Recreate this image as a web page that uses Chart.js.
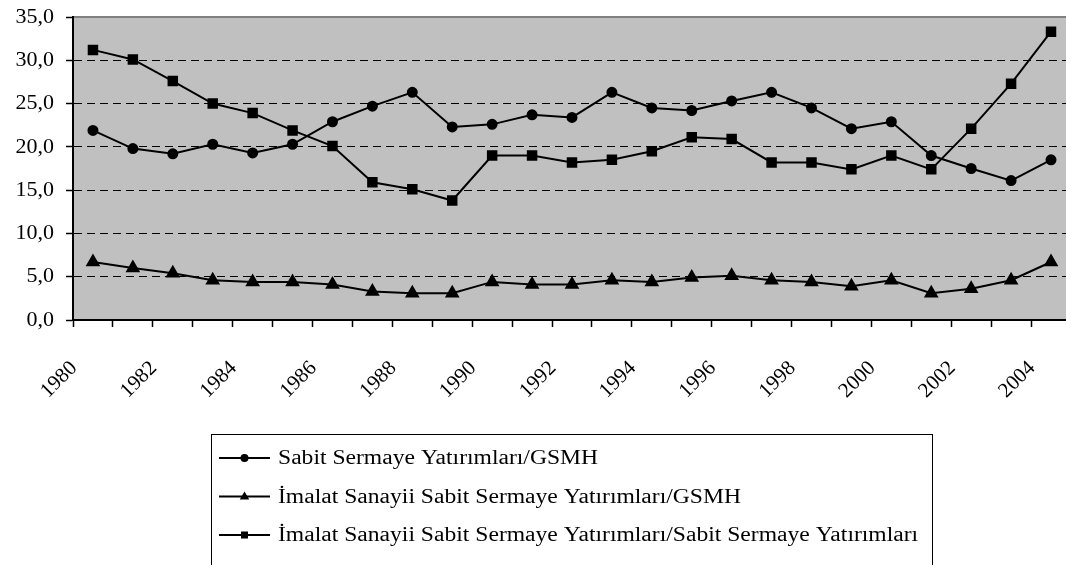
<!DOCTYPE html>
<html>
<head>
<meta charset="utf-8">
<script src="https://cdn.jsdelivr.net/npm/chart.js@4/dist/chart.umd.min.js"></script>
<style>
  html, body { margin: 0; padding: 0; background: #fff; overflow: hidden; }
</style>
</head>
<body>
<canvas id="chart" width="1098" height="565"></canvas>
<script>
var years = ["1980", "1981", "1982", "1983", "1984", "1985", "1986", "1987", "1988", "1989",
  "1990", "1991", "1992", "1993", "1994", "1995", "1996", "1997", "1998", "1999",
  "2000", "2001", "2002", "2003", "2004"];

var sabitGsmh = [21.9, 19.8, 19.2, 20.3, 19.3, 20.3, 22.9, 24.7, 26.3, 22.3, 22.6, 23.7, 23.4,
  26.3, 24.5, 24.2, 25.3, 26.3, 24.5, 22.1, 22.9, 19.0, 17.5, 16.1, 18.5];
var imalatGsmh = [6.7, 6.0, 5.4, 4.6, 4.4, 4.4, 4.1, 3.3, 3.1, 3.1, 4.4, 4.1, 4.1,
  4.6, 4.4, 4.9, 5.1, 4.6, 4.4, 3.9, 4.6, 3.1, 3.6, 4.6, 6.7];
var imalatSabit = [31.2, 30.1, 27.6, 25.0, 23.9, 21.9, 20.1, 15.9, 15.1, 13.8, 19.0, 19.0, 18.2,
  18.5, 19.5, 21.1, 20.9, 18.2, 18.2, 17.4, 19.0, 17.4, 22.1, 27.3, 33.3];

var seriesNames = [
  "Sabit Sermaye Yatırımları/GSMH",
  "İmalat Sanayii Sabit Sermaye Yatırımları/GSMH",
  "İmalat Sanayii Sabit Sermaye Yatırımları/Sabit Sermaye Yatırımları"
];

var serif = "'Liberation Serif', 'Times New Roman', serif";

// grey plot background with a grey frame
var plotBackground = {
  id: "plotBackground",
  beforeDraw: function (chart) {
    var a = chart.chartArea, c = chart.ctx;
    c.save();
    c.fillStyle = "#c0c0c0";
    c.fillRect(a.left, a.top, a.right - a.left, a.bottom - a.top);
    c.strokeStyle = "#808080";
    c.lineWidth = 2;
    c.strokeRect(a.left, a.top, a.right - a.left, a.bottom - a.top);
    c.restore();
  }
};

function marker(c, style, x, y, r) {
  c.beginPath();
  if (style === "circle") {
    c.arc(x, y, r, 0, Math.PI * 2);
  } else if (style === "triangle") {
    c.moveTo(x, y - r);
    c.lineTo(x + r * 0.95, y + r * 0.6);
    c.lineTo(x - r * 0.95, y + r * 0.6);
    c.closePath();
  } else {
    c.rect(x - r * 0.8, y - r * 0.8, r * 1.6, r * 1.6);
  }
  c.fill();
}

// boxed legend below the chart (text a bit wider, like the original)
var boxLegend = {
  id: "boxLegend",
  afterDraw: function (chart) {
    var c = chart.ctx;
    c.save();
    c.strokeStyle = "#000";
    c.lineWidth = 1;
    c.strokeRect(211.5, 434.5, 721, 200);
    c.font = "20px " + serif;
    c.textBaseline = "middle";
    c.fillStyle = "#000";
    var sizes = { circle: 4, triangle: 5, rect: 4.4 };
    chart.data.datasets.forEach(function (ds, i) {
      var y = 458 + i * 38.5;
      c.lineWidth = 2;
      c.beginPath();
      c.moveTo(219, y);
      c.lineTo(270, y);
      c.stroke();
      marker(c, ds.pointStyle, 244.5, y, sizes[ds.pointStyle]);
      c.save();
      c.translate(278, y + 1);
      c.scale(1.18, 1);
      c.fillText(ds.label, 0, 0);
      c.restore();
    });
    c.restore();
  }
};

new Chart(document.getElementById("chart"), {
  type: "line",
  data: {
    labels: years,
    datasets: [
      {
        label: seriesNames[0],
        data: sabitGsmh,
        pointStyle: "circle",
        pointRadius: 4.5,
        borderColor: "#000",
        backgroundColor: "#000",
        borderWidth: 2
      },
      {
        label: seriesNames[1],
        data: imalatGsmh,
        pointStyle: "triangle",
        pointRadius: 6.5,
        borderColor: "#000",
        backgroundColor: "#000",
        borderWidth: 2
      },
      {
        label: seriesNames[2],
        data: imalatSabit,
        pointStyle: "rect",
        pointRadius: 6,
        borderColor: "#000",
        backgroundColor: "#000",
        borderWidth: 2
      }
    ]
  },
  options: {
    responsive: false,
    animation: false,
    layout: { padding: { top: 17, right: 7, left: 0, bottom: 0 } },
    plugins: {
      legend: { display: false },
      tooltip: { enabled: false }
    },
    elements: {
      line: { tension: 0 },
      point: { borderWidth: 0 }
    },
    scales: {
      x: {
        type: "category",
        offset: true,
        grid: {
          offset: true,
          drawOnChartArea: false,
          tickLength: 7,
          tickColor: "#000",
          tickWidth: 1.5
        },
        border: { color: "#000", width: 2 },
        ticks: {
          autoSkip: false,
          maxRotation: 45,
          minRotation: 45,
          padding: 29,
          labelOffset: -19,
          color: "#000",
          font: { family: serif, size: 21 },
          callback: function (v, i) { return i % 2 === 0 ? years[i] : ""; }
        },
        afterFit: function (s) { s.height = 245; }
      },
      y: {
        min: 0,
        max: 35,
        grid: {
          color: function (ctx) {
            var v = ctx.tick.value;
            return v === 0 || v === 35 ? "rgba(0,0,0,0)" : "#000";
          },
          lineWidth: 1,
          tickLength: 7,
          tickColor: "#000",
          tickWidth: 1.5,
          tickBorderDash: []
        },
        border: { color: "#000", width: 2, dash: [8, 5] },
        ticks: {
          stepSize: 5,
          padding: 12,
          color: "#000",
          font: { family: serif, size: 22 },
          callback: function (v) { return v.toFixed(1).replace(".", ","); }
        },
        afterFit: function (s) {
          s.width = 73;
          s.paddingTop = 0;
          s.paddingBottom = 0;
        }
      }
    }
  },
  plugins: [plotBackground, boxLegend]
});
</script>
</body>
</html>
